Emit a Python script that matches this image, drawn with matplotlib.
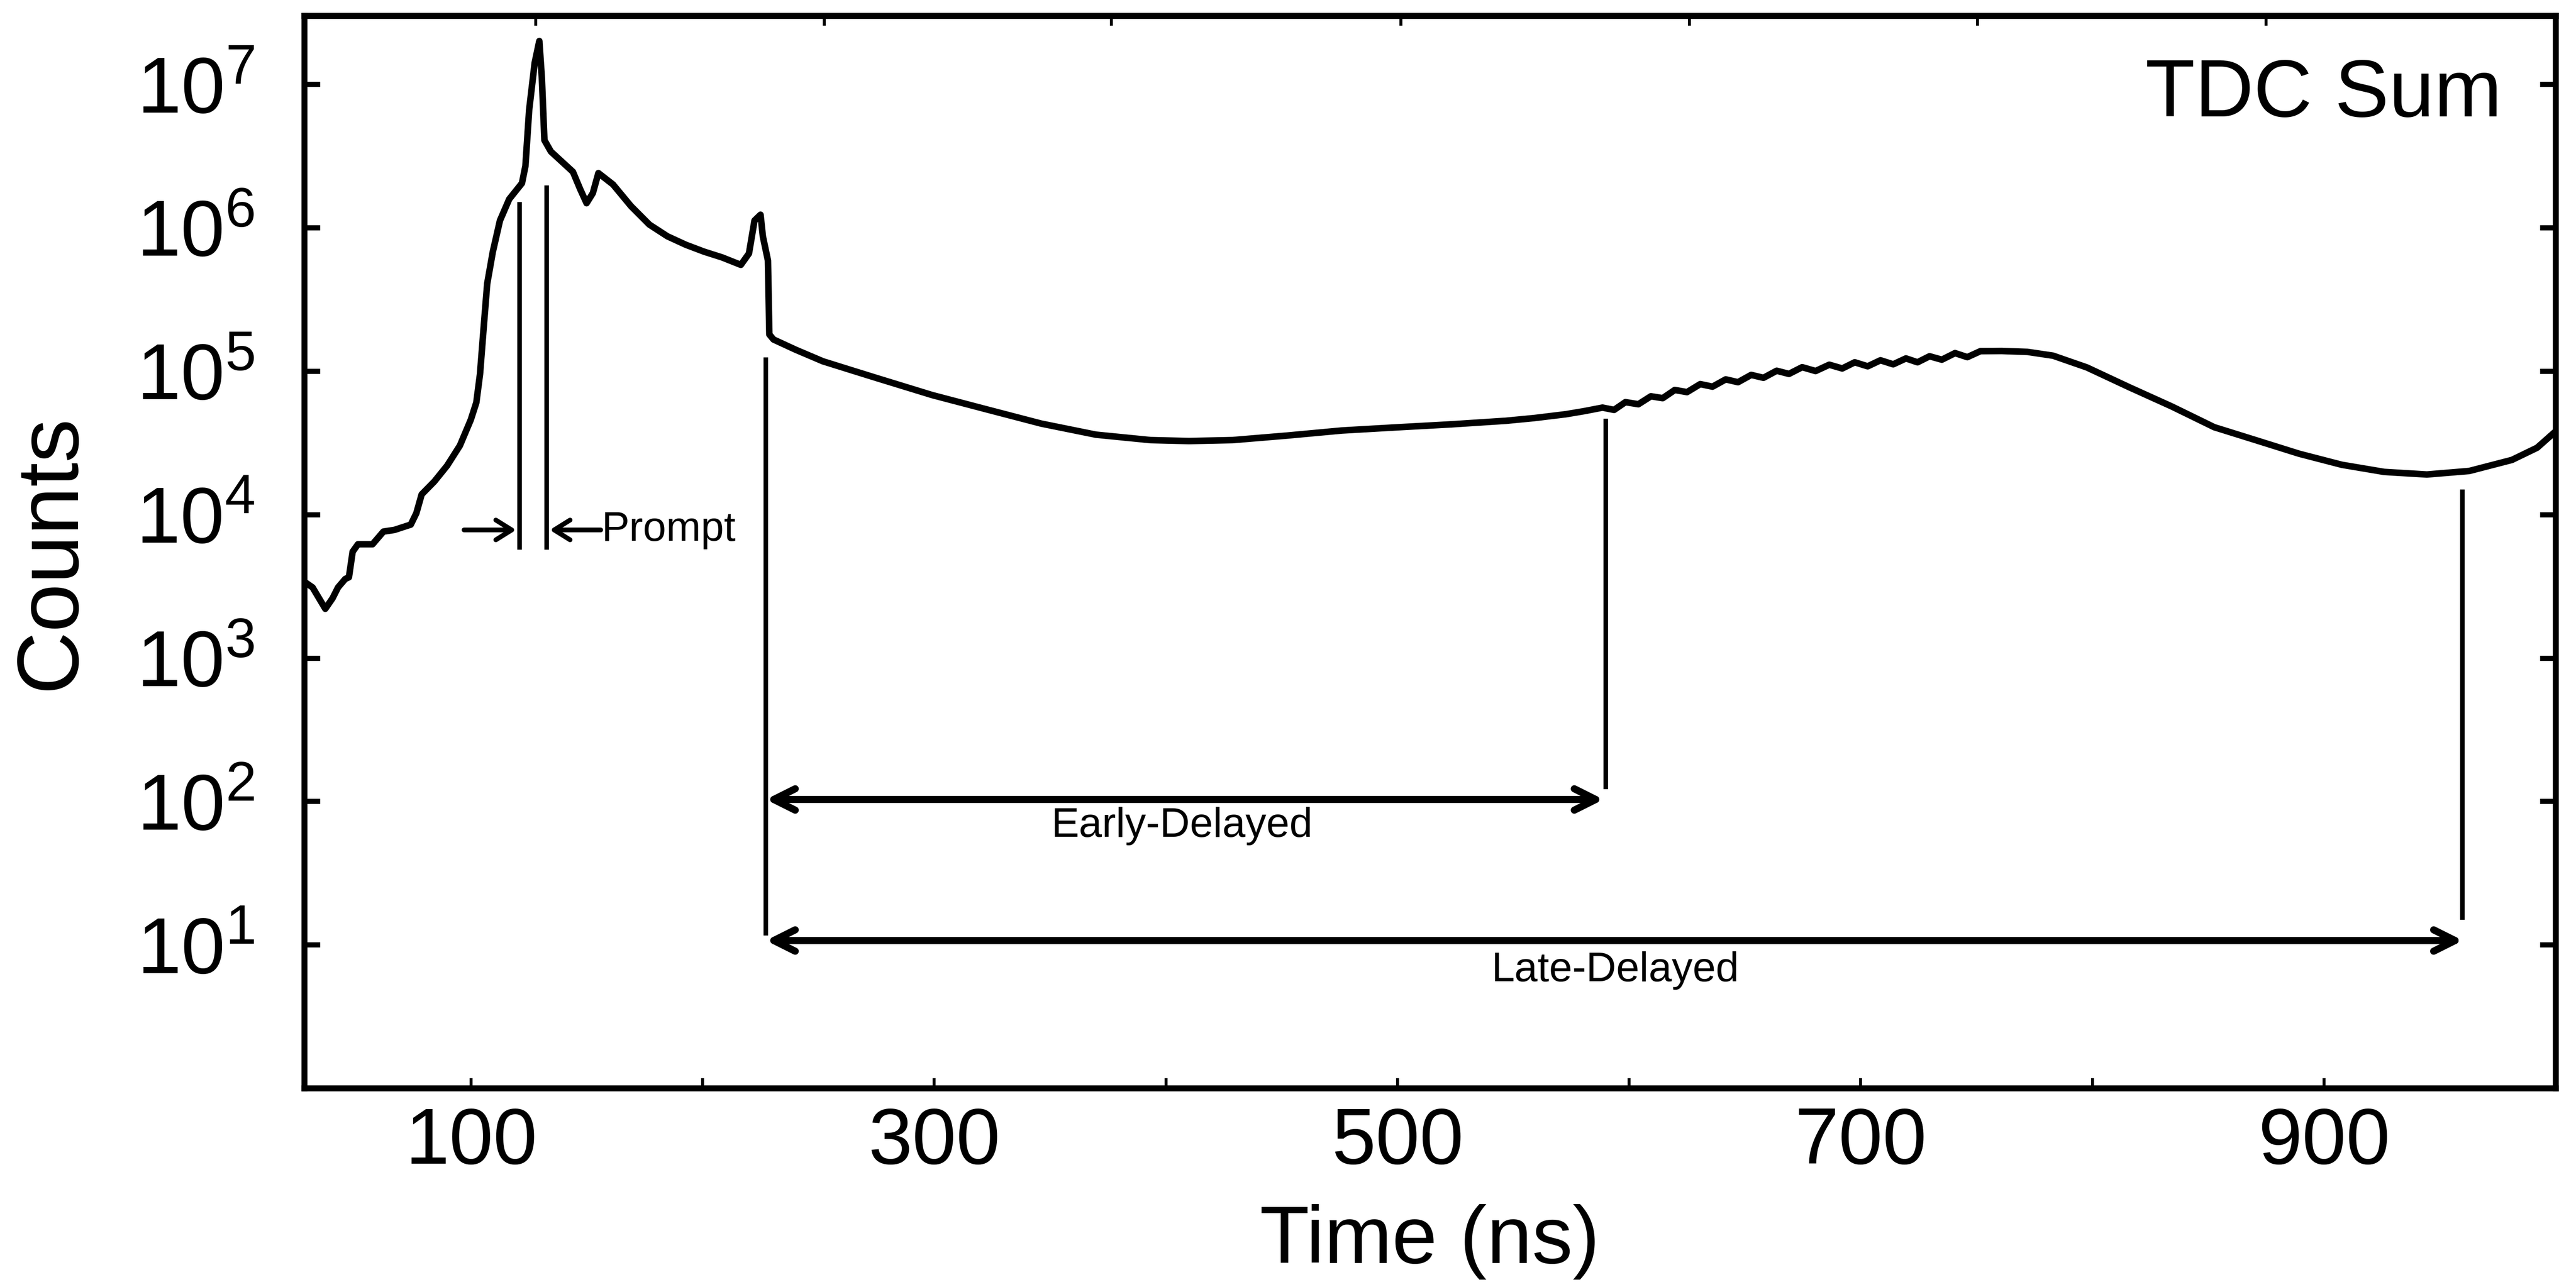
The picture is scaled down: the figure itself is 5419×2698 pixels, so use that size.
import matplotlib
matplotlib.use("Agg")
import matplotlib.pyplot as plt
from matplotlib.ticker import NullLocator

# ---------------- data ----------------
time_ns = [28.0, 31.6, 37.1, 40.2, 42.6, 45.7, 47.3, 48.9, 51.2, 57.5, 62.2, 66.9,
           74.0, 76.4, 78.7, 84.2, 89.7, 95.2, 99.9, 102.3, 103.9, 105.5, 107.0,
           109.4, 112.5, 116.5, 122.0, 123.5, 125.1, 127.5, 129.5, 130.6, 131.7,
           134.5, 144.0, 147.1, 149.9, 152.6, 155.0, 161.3, 169.1, 177.0, 184.8,
           192.7, 200.6, 208.4, 216.5, 220.0, 222.4, 225.0, 226.0, 228.2, 228.8,
           230.6, 240.1, 251.9, 263.7, 275.5, 299.1, 322.7, 346.2, 369.8, 393.4,
           410.0, 428.8, 452.4, 476.0, 499.6, 523.2, 546.8, 559.0, 572.7, 580.5,
           588.5, 593.5, 598.4, 604.0, 609.4, 614.5, 619.7, 625.0, 630.7, 636.0,
           641.7, 647.0, 652.7, 658.0, 663.7, 669.0, 674.7, 680.5, 686.4, 692.0,
           697.4, 703.0, 708.5, 714.0, 719.5, 724.5, 729.7, 735.0, 740.7, 746.0,
           751.7, 760.9, 772.0, 783.0, 797.6, 816.0, 834.3, 852.6, 871.0, 889.3,
           907.7, 926.0, 944.4, 962.7, 981.1, 992.0, 1000.0]
counts = [3400, 3100, 2200, 2600, 3100, 3550, 3650, 5500, 6200, 6200, 7600, 7800,
          8500, 10200, 13800, 17000, 21900, 30200, 45700, 60300, 95500, 2.04e5, 4.07e5,
          6.76e5, 1.12e6, 1.58e6, 2.04e6, 2.69e6, 6.6e6, 1.41e7, 2.0e7, 1.1e7, 4.07e6,
          3.39e6, 2.45e6, 1.86e6, 1.48e6, 1.74e6, 2.4e6, 2.0e6, 1.41e6, 1.05e6, 8.7e5,
          7.6e5, 6.8e5, 6.2e5, 5.5e5, 6.6e5, 1.12e6, 1.23e6, 8.7e5, 5.9e5, 1.8e5,
          1.66e5, 1.41e5, 1.17e5, 1.02e5, 8.9e4, 6.8e4, 5.4e4, 4.3e4, 3.6e4, 3.3e4,
          3.25e4, 3.3e4, 3.55e4, 3.85e4, 4.05e4, 4.25e4, 4.5e4, 4.7e4, 5.0e4, 5.25e4,
          5.56e4, 5.36e4, 6.07e4, 5.87e4, 6.67e4, 6.47e4, 7.38e4, 7.13e4, 8.11e4, 7.78e4,
          8.75e4, 8.36e4, 9.4e4, 8.97e4, 1.005e5, 9.55e4, 1.064e5, 1.0e5, 1.107e5, 1.042e5,
          1.151e5, 1.079e5, 1.189e5, 1.114e5, 1.225e5, 1.151e5, 1.268e5, 1.2e5, 1.334e5, 1.25e5,
          1.377e5, 1.38e5, 1.36e5, 1.28e5, 1.06e5, 7.7e4, 5.66e4, 4.06e4, 3.28e4, 2.65e4,
          2.22e4, 1.98e4, 1.9e4, 2.01e4, 2.4e4, 2.92e4, 3.8e4]

# window marker lines: x, bottom, top
marker_x = [121.0, 132.6, 227.3, 589.9, 959.7]
marker_bottom = [5.9e3, 5.9e3, 12.0, 126.0, 15.5]
marker_top = [1.45e6, 1.9e6, 1.2e5, 4.5e4, 1.44e4]

prompt_y = 7.8e3
prompt_left_arrow = [97.0, 119.5]
prompt_right_arrow = [156.0, 134.0]
early_window = [227.3, 589.0]
early_y = 103.0
late_window = [227.3, 960.0]
late_y = 10.7

xtick_major = [100, 300, 500, 700, 900]
xtick_minor = [200, 400, 600, 800]
ytick_major = [1e1, 1e2, 1e3, 1e4, 1e5, 1e6, 1e7]
top_ticks = [128.0, 252.5, 376.4, 501.5, 626.0, 750.5, 875.0]

# ---------------- style ----------------
plt.rcParams['font.family'] = ['Liberation Sans', 'DejaVu Sans']
plt.rcParams['mathtext.fontset'] = 'custom'
plt.rcParams['mathtext.rm'] = 'Liberation Sans'
plt.rcParams['mathtext.it'] = 'Liberation Sans:italic'
plt.rcParams['mathtext.bf'] = 'Liberation Sans:bold'

fig = plt.figure(figsize=(5419 / 300, 2698 / 300), dpi=300)
ax = fig.add_axes([0.1181, 0.1512, 0.8740, 0.8365])

ax.plot(time_ns, counts, color='black', lw=3.3, solid_joinstyle='round')
ax.set_yscale('log')
ax.set_xlim(28, 1000)
ax.set_ylim(1, 3e7)

# marker lines
for x, b, t in zip(marker_x, marker_bottom, marker_top):
    ax.plot([x, x], [b, t], color='black', lw=2.3)

# arrows
big = dict(arrowstyle='<->,head_length=0.4,head_width=0.2', lw=3.6,
           color='black', shrinkA=0, shrinkB=0, mutation_scale=27)
ax.annotate('', xy=(early_window[1], early_y), xytext=(early_window[0], early_y),
            arrowprops=big)
ax.annotate('', xy=(late_window[1], late_y), xytext=(late_window[0], late_y),
            arrowprops=big)
small = dict(arrowstyle='->,head_length=0.4,head_width=0.25', lw=2.4,
             color='black', shrinkA=0, shrinkB=0, mutation_scale=20)
ax.annotate('', xy=(prompt_left_arrow[1], prompt_y), xytext=(prompt_left_arrow[0], prompt_y),
            arrowprops=small)
ax.annotate('', xy=(prompt_right_arrow[1], prompt_y), xytext=(prompt_right_arrow[0], prompt_y),
            arrowprops=small)

ax.text(156.5, prompt_y, 'Prompt', fontsize=21, ha='left', va='center')
ax.text(407, 67, 'Early-Delayed', fontsize=21, ha='center', va='center')
ax.text(594, 6.6, 'Late-Delayed', fontsize=21, ha='center', va='center')
ax.text(0.976, 0.906, 'TDC Sum', transform=ax.transAxes, fontsize=41,
        ha='right', va='baseline')

# ticks
ax.set_xticks(xtick_major)
ax.set_xticks(xtick_minor, minor=True)
ax.set_yticks(ytick_major)
ax.yaxis.set_minor_locator(NullLocator())
ax.tick_params(axis='x', which='both', direction='in', length=5, width=1.5,
               labelsize=40, pad=9)
ax.tick_params(axis='y', which='major', direction='in', length=8, width=2.6,
               labelsize=40, pad=25, right=True)

sec = ax.secondary_xaxis('top')
sec.set_xticks(top_ticks)
sec.set_xticklabels([])
sec.tick_params(direction='in', length=5, width=1.5)
sec.spines['top'].set_linewidth(3.0)

for s in ax.spines.values():
    s.set_linewidth(3.0)

ax.set_xlabel('Time (ns)', fontsize=41, labelpad=12)
ax.set_ylabel('Counts', fontsize=44, labelpad=22)

fig.savefig('out.png', dpi=300)
